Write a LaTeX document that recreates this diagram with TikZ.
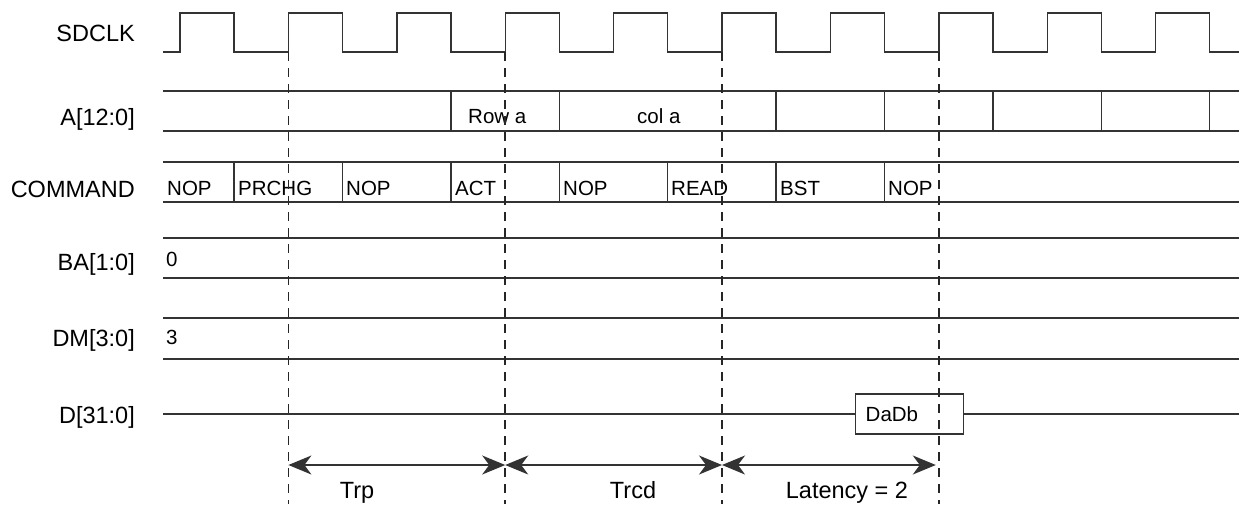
\documentclass[tikz,border=0pt]{standalone}
\usepackage{fontspec}
\setmainfont{Liberation Sans}
\usetikzlibrary{arrows.meta}

\tikzset{
  sig/.style={line width=1.4pt, draw=black!80},
  raster/.style={line width=1.5pt, draw=black!85, dash pattern=on 9pt off 7pt},
  lbl/.style={anchor=base east, inner sep=0pt, font=\fontsize{23.5}{26}\selectfont},
  val/.style={anchor=base west, inner sep=0pt, font=\fontsize{20.5}{24}\selectfont},
  tspan/.style={sig, {Stealth[length=23pt,width=19pt,inset=7pt]}-{Stealth[length=23pt,width=19pt,inset=7pt]}},
  tlbl/.style={anchor=base, inner sep=0pt, font=\fontsize{23.5}{26}\selectfont}
}

\begin{document}
\begin{tikzpicture}[x=1pt,y=-1pt]
  \useasboundingbox (0,0) rectangle (1239,504);
  % Signalnamen
  \node[lbl] (lclk) at (135,41) {SDCLK};
  \node[lbl] (laddr) at (135,125) {A[12:0]};
  \node[lbl] (lcmd) at (135,197) {COMMAND};
  \node[lbl] (lba) at (135,270) {BA[1:0]};
  \node[lbl] (ldm) at (135,346) {DM[3:0]};
  \node[lbl] (ldata) at (135,423) {D[31:0]};
  % Takt
  \draw[sig] (163,52) foreach \k in {0,...,9} {
      -- ({180+108.4*\k},52) -- ({180+108.4*\k},13)
      -- ({234+108.4*\k},13) -- ({234+108.4*\k},52)} -- (1239,52);
  % Adressbus
  \draw[sig] (163,91) -- (1239,91) (163,131) -- (1239,131);
  \foreach \x in {450.8,559.2,776,884.4,992.8,1101.2,1209.6}
    \draw[sig] (\x,91) -- (\x,131);
  \node[val] (rowa) at (468,123) {Row a};
  \node[val] (cola) at (637,123) {col a};
  % Kommandos
  \draw[sig] (163,162) -- (1239,162) (163,202) -- (1239,202);
  \foreach \x in {234,342.4,450.8,559.2,667.6,776,884.4}
    \draw[sig] (\x,162) -- (\x,202);
  \foreach \x/\t [count=\i] in {167/NOP,238/PRCHG,346/NOP,455/ACT,563/NOP,671/READ,780/BST,888/NOP}
    \node[val] (cmd\i) at (\x,195) {\t};
  % Bank und Maske
  \draw[sig] (163,238) -- (1239,238) (163,278) -- (1239,278);
  \node[val] (ba) at (166,266) {0};
  \draw[sig] (163,318) -- (1239,318) (163,359) -- (1239,359);
  \node[val] (dm) at (166,344) {3};
  % Daten
  \node[sig, draw, anchor=west, minimum height=40pt, text width=88pt, inner xsep=10pt,
        align=left, font=\fontsize{20.5}{24}\selectfont] (dadb) at (855,414) {DaDb};
  \draw[sig] (163,414) -- (dadb.west) (dadb.east) -- (1239,414);
  % Zeitmarken
  \foreach \x [count=\i from 0] in {288.4,505.2,722,938.8} {
    \coordinate (t\i) at (\x,52);
    \coordinate (b\i) at (\x,504);
    \coordinate (m\i) at (\x,465);
    \draw[raster] (t\i) -- (b\i);
  }
  \draw[tspan] (m0) -- (m1);
  \draw[tspan] (m1) -- (m2);
  \draw[tspan, shorten >=3pt] (m2) -- (m3);
  \node[tlbl] (trp) at (357,498) {Trp};
  \node[tlbl] (trcd) at (633,498) {Trcd};
  \node[tlbl] (lat) at (847,498) {Latency = 2};
\end{tikzpicture}
\end{document}
